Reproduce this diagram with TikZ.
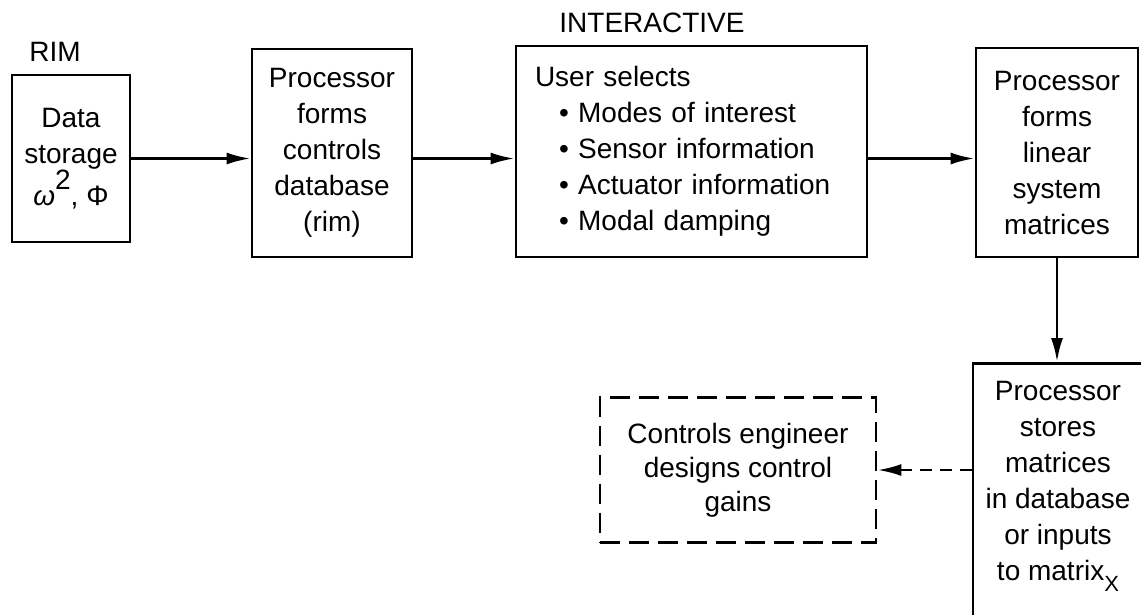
\documentclass[tikz,border=0pt]{standalone}
\usepackage{fontspec}
\setmainfont{Liberation Sans}
\usetikzlibrary{arrows.meta}
\begin{document}
\begin{tikzpicture}[x=1pt,y=-1pt,
  txt/.style={font=\fontsize{28}{36}\selectfont, inner sep=0pt},
  blk/.style={txt, draw, line width=2.8pt, align=center},
  arr/.style={line width=2.8pt, -{Latex[length=24pt,width=12pt]}},
  dbox/.style={blk, dash pattern=on 20pt off 9pt, font=\fontsize{28}{34}\selectfont}
]
\useasboundingbox (0,0) rectangle (1141,614);
\clip (0,0) rectangle (1141,614);

\node[txt] (rim) at (55,52) {RIM};
\node[txt] (inter) at (652,22.5) {INTERACTIVE};

\node[blk, minimum width=118pt, minimum height=167pt] (b1) at (71,158.5)
  {Data\\storage\\{\itshape ω}\raisebox{.55em}{2}, Φ};
\node[blk, minimum width=160pt, minimum height=208pt] (b2) at (332,153)
  {Processor\\forms\\controls\\database\\(rim)};
\node[blk, minimum width=351pt, minimum height=211pt, text width=313pt, align=left] (b3) at (691.5,151.5)
  {User selects\\
   \hspace*{24pt}• Modes of interest\\
   \hspace*{24pt}• Sensor information\\
   \hspace*{24pt}• Actuator information\\
   \hspace*{24pt}• Modal damping};
\node[blk, minimum width=162pt, minimum height=209pt] (b4) at (1057,152.5)
  {Processor\\forms\\linear\\system\\matrices};
\node[blk, anchor=north, minimum width=170pt, inner ysep=18pt] (b5) at (1058,362)
  {Processor\\stores\\matrices\\in database\\or inputs\\to matrix\raisebox{-.4em}{\fontsize{22}{22}\selectfont X}\\\mbox{}};
\node[dbox, minimum width=276pt, minimum height=145pt] (ce) at (738,470)
  {Controls engineer\\designs control\\gains};

\draw[arr] (b1.east) -- (b2.west |- b1.east);
\draw[arr] (b2.east |- b1.east) -- (b3.west |- b1.east);
\draw[arr] (b3.east |- b1.east) -- (b4.west |- b1.east);
\draw[arr] (b4.south) -- (b4.south |- b5.north);
\draw[arr, dash pattern=on 12pt off 8pt] (b5.west |- ce.east) -- (ce.east);
\end{tikzpicture}
\end{document}
